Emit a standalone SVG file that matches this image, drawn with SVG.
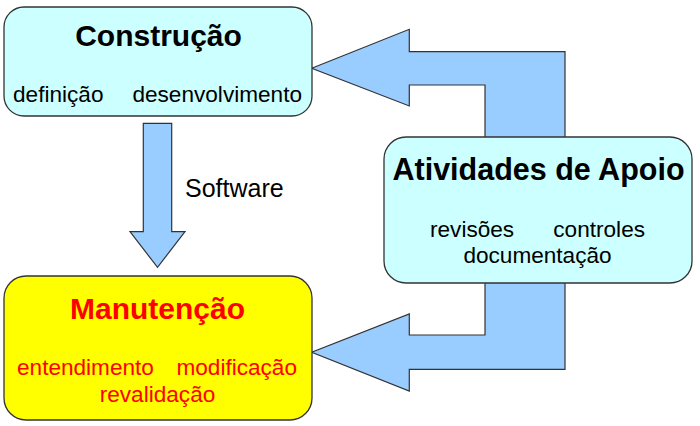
<svg xmlns="http://www.w3.org/2000/svg" width="700" height="426" viewBox="0 0 700 426">
<style>
.box{stroke:#333;stroke-width:1.3}
.cyan{fill:#CCFFFF}
.yellow{fill:#FFFF00}
.arrow{fill:#99CCFF;stroke:#333;stroke-width:1.2;stroke-linejoin:miter}
.title{font-family:"Liberation Sans",Arial,sans-serif;font-weight:bold;font-size:30px;text-anchor:middle}
.sub{font-family:"Liberation Sans",Arial,sans-serif;font-size:22.6px}
.red{fill:#FF0000}
.blk{fill:#000}
</style>
<rect width="700" height="426" fill="#fff"/>
<g id="connectors">
<polygon class="arrow" points="143.3,123.3 171.7,123.3 171.7,231.7 185,231.7 157.5,267.3 130,231.7 143.3,231.7"/>
<polygon class="arrow" points="311.7,68.3 409.3,29.3 409.3,51.7 565,51.7 565,138 485,138 485,85 409.3,85 409.3,106"/>
<polygon class="arrow" points="485,282 485,335 409.3,335 409.3,314 311.7,352.3 409.3,391 409.3,369.3 565,369.3 565,282"/>
<text class="sub blk" x="185" y="197" style="font-size:25px">Software</text>
</g>
<g id="construcao">
<rect class="box cyan" x="4" y="7" width="308" height="109" rx="20"/>
<text class="title blk" x="158.5" y="45.5">Construção</text>
<text class="sub blk" x="13" y="102">definição</text>
<text class="sub blk" x="302" y="102" text-anchor="end">desenvolvimento</text>
</g>
<g id="manutencao">
<rect class="box yellow" x="4" y="276" width="308" height="144" rx="22"/>
<text class="title red" x="157.5" y="319">Manutenção</text>
<text class="sub red" x="17" y="375">entendimento</text>
<text class="sub red" x="297" y="375" text-anchor="end">modificação</text>
<text class="sub red" x="157.5" y="401.5" text-anchor="middle">revalidação</text>
</g>
<g id="apoio">
<rect class="box cyan" x="384" y="137" width="308" height="146" rx="22"/>
<text class="title blk" x="538.5" y="180" style="font-size:30.5px">Atividades de Apoio</text>
<text class="sub blk" x="430" y="237">revisões</text>
<text class="sub blk" x="645" y="237" text-anchor="end">controles</text>
<text class="sub blk" x="537.5" y="263" text-anchor="middle">documentação</text>
</g>
</svg>
